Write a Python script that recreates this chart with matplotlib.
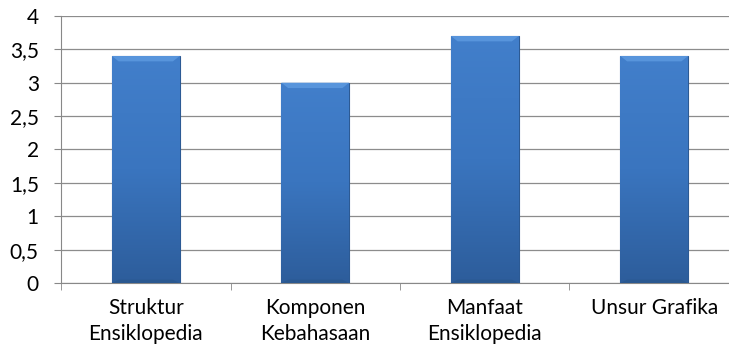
import matplotlib
matplotlib.use('Agg')
import matplotlib.pyplot as plt
import numpy as np
from matplotlib.colors import LinearSegmentedColormap

categories=['Struktur\nEnsiklopedia','Komponen\nKebahasaan','Manfaat\nEnsiklopedia','Unsur Grafika']
values=[3.4,3.0,3.7,3.4]
yticks=[0,0.5,1,1.5,2,2.5,3,3.5,4]
ylabels=['0','0,5','1','1,5','2','2,5','3','3,5','4']

plt.rcParams['font.family']=['Lato','DejaVu Sans']

fig=plt.figure(figsize=(7.29,3.53),dpi=100)
ax=fig.add_axes([0.0837,0.1983,0.93,0.7564])

x=np.arange(len(values))
bars=ax.bar(x,values,width=0.4,color='#3a74bd',edgecolor='#2c5a94',linewidth=0.8,zorder=3)

#gradient fill inside each bar
cmap=LinearSegmentedColormap.from_list('blu',['#2d5d9b','#3a75bf','#427fcb'])
grad=np.linspace(0,1,256).reshape(-1,1)
for b in bars:
    x0,y0=b.get_x(),b.get_y()
    w,h=b.get_width(),b.get_height()
    im=ax.imshow(grad,extent=[x0,x0+w,y0,y0+h],origin='lower',cmap=cmap,aspect='auto',zorder=3.5)
    im.set_clip_path(b)
    #bevel highlight on top
    ax.fill([x0,x0+w,x0+w*0.9,x0+w*0.1],[y0+h,y0+h,y0+h-0.08,y0+h-0.08],color='#5895dc',zorder=4,lw=0)
    ax.fill([x0,x0+w,x0+w*0.9,x0+w*0.1],[y0,y0,y0+0.05,y0+0.05],color='#2a5890',zorder=4,lw=0)

ax.set_xlim(-0.5,3.5)
ax.set_ylim(0,4)
ax.set_yticks(yticks)
ax.set_yticklabels(ylabels,fontsize=15)
ax.set_xticks(x)
ax.set_xticklabels(categories,fontsize=15,linespacing=1.35)
ax.set_xticks([-0.5,0.5,1.5,2.5],minor=True)
ax.tick_params(axis='x',which='major',length=0,pad=11)
ax.tick_params(axis='x',which='minor',length=5,color='#888888',direction='out')
ax.tick_params(axis='y',length=5,color='#888888',pad=11)
ax.grid(axis='y',color='#8c8c8c',linewidth=0.9,zorder=0)
for s in ['top','right']:
    ax.spines[s].set_visible(False)
ax.spines['left'].set_color('#888888')
ax.spines['bottom'].set_color('#888888')

fig.savefig('out.png',dpi=100)
